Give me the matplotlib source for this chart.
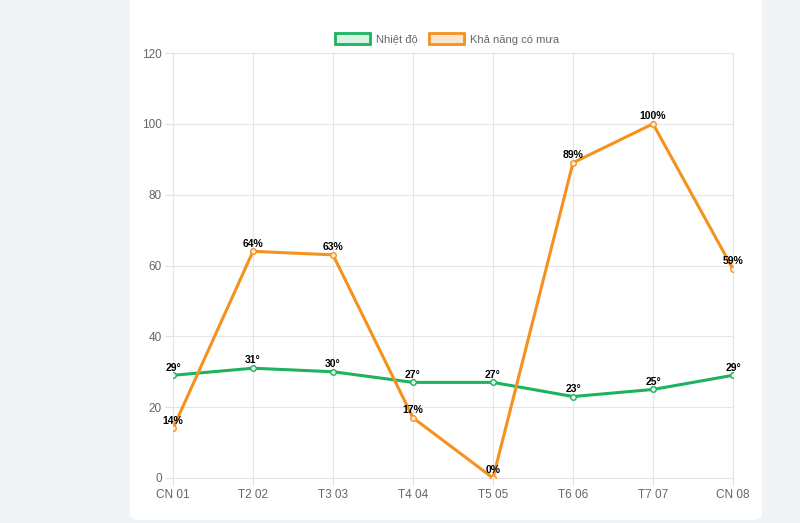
import matplotlib.pyplot as plt
from matplotlib.patches import FancyBboxPatch, Patch

plt.rcParams['font.family'] = ['Liberation Sans', 'DejaVu Sans']

# Data
days = ["CN 01", "T2 02", "T3 03", "T4 04", "T5 05", "T6 06", "T7 07", "CN 08"]
temperature = [29, 31, 30, 27, 27, 23, 25, 29]
rain_chance = [14, 64, 63, 17, 0, 89, 100, 59]

green = "#1db35e"
orange = "#f5921e"

fig = plt.figure(figsize=(8, 5.23), dpi=100)
fig.patch.set_facecolor("#f0f4f6")

# white card behind the chart
card = FancyBboxPatch((130 / 800, 3 / 523), 632 / 800, 540 / 523,
                      boxstyle="round,pad=0,rounding_size=0.012",
                      transform=fig.transFigure, facecolor="white",
                      edgecolor="none", zorder=-10)
fig.add_artist(card)

ax = fig.add_axes([173 / 800, 45 / 523, 560 / 800, 425 / 523])
ax.set_facecolor("white")

x = list(range(len(days)))
ax.plot(x, temperature, color=green, lw=2.2, marker="o", ms=4,
        mfc="#e3f6ea", mec=green, mew=1, label="Nhiệt độ", zorder=3)
ax.plot(x, rain_chance, color=orange, lw=2.2, marker="o", ms=4,
        mfc="#fdebd6", mec=orange, mew=1, label="Khả năng có mưa", zorder=3)

for i, v in enumerate(temperature):
    ax.annotate(f"{v}°", (i, v), xytext=(0, 2), textcoords="offset points",
                ha="center", va="bottom", fontsize=7.5, fontweight="bold")
for i, v in enumerate(rain_chance):
    ax.annotate(f"{v}%", (i, v), xytext=(0, 2), textcoords="offset points",
                ha="center", va="bottom", fontsize=7.5, fontweight="bold")

ax.set_xlim(0, len(days) - 1)
ax.set_ylim(0, 120)
ax.set_yticks(range(0, 121, 20))
ax.set_xticks(x)
ax.set_xticklabels(days)
ax.grid(True, color="#e5e5e5", lw=0.8)
ax.set_axisbelow(True)
for s in ax.spines.values():
    s.set_color("#e5e5e5")
ax.tick_params(colors="#e0e0e0", labelcolor="#666666", labelsize=8.5,
               length=6, width=0.8, pad=2)

# legend with box-style handles
handles = [Patch(facecolor="#d6f2e1", edgecolor=green, lw=2, label="Nhiệt độ"),
           Patch(facecolor="#fde6cc", edgecolor=orange, lw=2, label="Khả năng có mưa")]
fig.legend(handles=handles, loc="center", bbox_to_anchor=(447 / 800, 1 - 39 / 523),
           ncol=2, frameon=False, fontsize=8, handlelength=3.2, handleheight=1.1,
           columnspacing=1.0, handletextpad=0.5, labelcolor="#666666")

fig.savefig("out.png", dpi=100, facecolor=fig.get_facecolor())
